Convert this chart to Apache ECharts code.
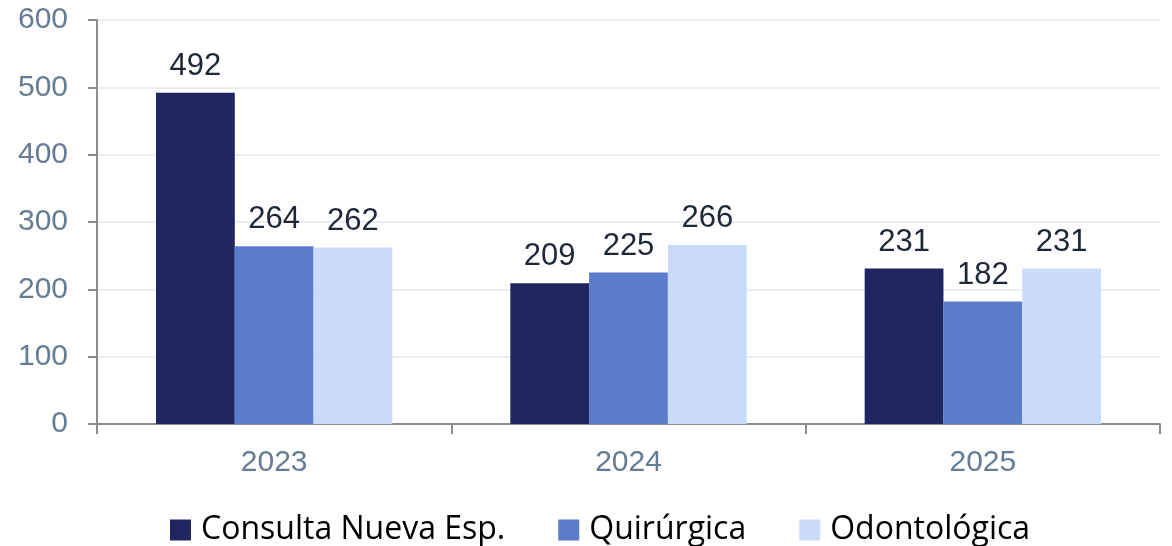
<!DOCTYPE html>
<html>
<head>
<meta charset="utf-8">
<script src="https://cdn.jsdelivr.net/npm/echarts@6/dist/echarts.min.js"></script>
<style>
  html, body { margin: 0; padding: 0; background: #fff; }
  #chart { width: 1172px; height: 546px; }
</style>
</head>
<body>
<div id="chart"></div>
<script>
var years = ["2023", "2024", "2025"];
var consulta = [492, 209, 231];
var quirurgica = [264, 225, 182];
var odontologica = [262, 266, 231];
var yTicks = { min: 0, max: 600, interval: 100 };

var myChart = echarts.init(document.getElementById("chart"));

var label = {
  show: true,
  position: "top",
  distance: 11,
  color: "#1d2738",
  fontSize: 31,
  fontFamily: "Liberation Sans, Arial, sans-serif"
};

function bar(name, data, color) {
  return {
    name: name,
    type: "bar",
    data: data,
    barGap: "0%",
    barCategoryGap: "33.3%",
    itemStyle: { color: color },
    label: label
  };
}

var option = {
  animation: false,
  grid: { left: 97, right: 12, top: 20, bottom: 122 },
  legend: {
    bottom: 0,
    left: 170,
    padding: 0,
    itemWidth: 21,
    itemHeight: 21,
    itemGap: 53,
    icon: "rect",
    textStyle: {
      color: "#000",
      fontSize: 32,
      fontFamily: "Open Sans, Noto Sans, sans-serif",
      padding: [0, 0, 0, 5]
    },
    data: ["Consulta Nueva Esp.", "Quirúrgica", "Odontológica"]
  },
  xAxis: {
    type: "category",
    data: years,
    axisLine: { lineStyle: { color: "#8c8c8c", width: 2 } },
    axisTick: { show: true, length: 10, lineStyle: { color: "#8c8c8c", width: 2 } },
    axisLabel: {
      margin: 24,
      color: "#667b94",
      fontSize: 30,
      fontFamily: "Liberation Sans, Arial, sans-serif"
    }
  },
  yAxis: {
    type: "value",
    min: yTicks.min,
    max: yTicks.max,
    interval: yTicks.interval,
    axisLine: { show: true, lineStyle: { color: "#8c8c8c", width: 2 } },
    axisTick: { show: true, length: 9, lineStyle: { color: "#8c8c8c", width: 2 } },
    splitLine: { lineStyle: { color: "#e3e8ef", width: 1.5 } },
    axisLabel: {
      margin: 29,
      color: "#667b94",
      fontSize: 30,
      fontFamily: "Liberation Sans, Arial, sans-serif"
    }
  },
  series: [
    bar("Consulta Nueva Esp.", consulta, "#1f2662"),
    bar("Quirúrgica", quirurgica, "#5b7bcb"),
    bar("Odontológica", odontologica, "#c9dbf9")
  ]
};

myChart.setOption(option);
</script>
</body>
</html>
